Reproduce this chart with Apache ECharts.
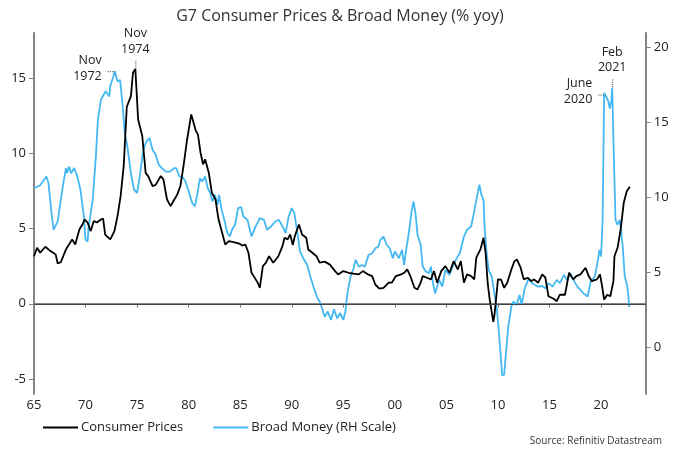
<!DOCTYPE html>
<html>
<head>
<meta charset="utf-8">
<script src="https://cdn.jsdelivr.net/npm/echarts@6/dist/echarts.min.js"></script>
<style>
html,body{margin:0;padding:0;background:#fff;}
#c{width:680px;height:453px;}
</style>
</head>
<body>
<div id="c"></div>
<script>
// ---- Data (year, % yoy) ----
const seriesNames = ['Consumer Prices', 'Broad Money (RH Scale)'];
const leftTicks = [-5, 0, 5, 10, 15];
const rightTicks = [0, 5, 10, 15, 20];

const cpi = [
[1965.0,3.16],[1965.3,3.72],[1965.6,3.39],[1966.1,3.79],[1966.6,3.5],[1967.1,3.28],[1967.3,2.68],[1967.6,2.76],
[1968.1,3.61],[1968.7,4.28],[1969.0,3.94],[1969.4,4.94],[1969.7,5.27],[1969.9,5.6],[1970.2,5.4],[1970.5,4.83],
[1970.8,5.5],[1971.1,5.4],[1971.5,5.6],[1971.7,5.67],[1971.9,4.6],[1972.4,4.28],[1972.8,4.83],[1973.1,5.83],
[1973.4,7.15],[1973.7,9.15],[1974.0,13.1],[1974.4,13.8],[1974.6,15.36],[1974.83,15.6],[1975.1,12.25],[1975.5,11.15],
[1975.83,8.7],[1976.1,8.45],[1976.5,7.82],[1976.8,7.9],[1977.3,8.49],[1977.55,8.27],[1977.9,6.93],[1978.25,6.49],
[1978.5,6.8],[1978.9,7.27],[1979.2,7.83],[1979.5,9.15],[1979.85,10.92],[1980.25,12.59],[1980.4,12.47],[1980.7,11.48],
[1980.9,11.26],[1981.15,10.04],[1981.4,9.27],[1981.6,9.6],[1981.95,8.71],[1982.25,7.38],[1982.6,6.93],[1982.9,5.6],
[1983.2,4.83],[1983.55,3.94],[1983.9,4.16],[1984.35,4.1],[1984.9,4.0],[1985.2,3.87],[1985.5,3.94],[1985.8,3.39],
[1986.1,2.06],[1986.5,1.62],[1986.7,1.4],[1986.9,1.06],[1987.2,2.5],[1987.5,2.73],[1987.8,3.16],[1988.2,2.73],
[1988.7,3.16],[1989.1,3.83],[1989.3,4.39],[1989.6,4.28],[1989.85,4.61],[1990.1,3.9],[1990.3,4.5],[1990.7,5.27],
[1991.0,4.6],[1991.4,4.39],[1991.6,3.61],[1992.0,3.39],[1992.4,3.16],[1992.7,2.73],[1993.2,2.8],[1993.7,2.6],
[1994.2,2.17],[1994.5,1.95],[1995.0,2.17],[1995.5,2.06],[1996.0,2.0],[1996.5,1.95],[1996.9,2.17],[1997.4,1.95],
[1997.8,1.84],[1998.1,1.28],[1998.5,1.0],[1998.9,1.06],[1999.4,1.4],[1999.7,1.4],[2000.1,1.84],[2000.6,1.95],
[2000.9,2.06],[2001.2,2.28],[2001.5,1.84],[2001.9,1.06],[2002.2,0.95],[2002.5,1.4],[2002.7,1.84],[2003.1,1.73],
[2003.5,1.62],[2003.8,2.17],[2004.1,1.4],[2004.5,2.17],[2004.9,2.5],[2005.3,2.06],[2005.7,2.83],[2006.1,2.28],
[2006.4,2.83],[2006.7,1.4],[2007.0,1.95],[2007.4,1.84],[2007.7,1.62],[2007.9,3.06],[2008.3,3.61],[2008.6,4.39],
[2008.8,3.39],[2009.0,1.4],[2009.2,0.28],[2009.55,-1.2],[2009.65,-0.8],[2009.8,0.2],[2010.0,1.62],[2010.3,1.6],
[2010.6,1.06],[2010.9,1.4],[2011.3,2.28],[2011.6,2.83],[2011.85,2.94],[2012.2,2.4],[2012.5,1.62],[2012.9,1.73],
[2013.2,1.5],[2013.5,1.62],[2013.9,1.4],[2014.3,1.95],[2014.6,1.73],[2014.9,0.5],[2015.4,0.33],[2015.7,0.17],
[2016.0,0.6],[2016.5,0.6],[2016.9,2.06],[2017.3,1.62],[2017.6,1.84],[2018.0,1.95],[2018.5,2.39],[2018.8,1.84],
[2019.1,1.5],[2019.6,1.62],[2019.9,1.95],[2020.1,1.17],[2020.3,0.28],[2020.6,0.6],[2020.9,0.5],[2021.2,1.5],
[2021.3,3.16],[2021.6,3.72],[2021.9,4.94],[2022.2,6.71],[2022.5,7.49],[2022.65,7.49],[2022.8,7.78]
];

const broadMoney = [
[1965.0,10.61],[1965.3,10.7],[1965.6,10.8],[1966.2,11.38],[1966.4,10.95],[1966.7,8.95],[1966.9,7.84],[1967.3,8.4],
[1967.6,9.83],[1967.85,10.95],[1968.1,11.94],[1968.2,11.6],[1968.4,12.05],[1968.6,11.6],[1968.9,11.94],[1969.2,11.38],
[1969.5,10.5],[1969.8,8.95],[1970.0,7.17],[1970.2,7.06],[1970.3,8.06],[1970.7,9.83],[1971.0,12.72],[1971.2,15.16],
[1971.5,16.5],[1971.95,17.05],[1972.3,16.7],[1972.4,17.4],[1972.7,18.04],[1972.83,18.38],[1973.1,17.7],[1973.35,17.8],
[1973.6,16.05],[1973.8,14.27],[1974.05,13.4],[1974.4,11.61],[1974.7,10.5],[1975.0,10.3],[1975.3,11.6],[1975.6,13.16],
[1975.9,13.7],[1976.2,13.94],[1976.5,13.16],[1976.8,12.83],[1977.1,12.16],[1977.4,11.94],[1977.8,11.7],[1978.2,11.7],
[1978.6,11.94],[1978.8,11.94],[1979.1,11.38],[1979.4,11.35],[1979.7,11.05],[1980.0,10.4],[1980.35,9.61],[1980.6,9.4],
[1980.8,10.05],[1981.1,11.27],[1981.3,11.05],[1981.6,11.38],[1981.85,10.6],[1982.1,10.27],[1982.3,9.72],[1982.55,10.16],
[1982.8,9.5],[1982.95,10.16],[1983.2,9.16],[1983.5,8.39],[1983.75,7.62],[1984.0,7.4],[1984.2,7.84],[1984.5,8.17],
[1984.8,9.28],[1985.1,9.35],[1985.3,8.72],[1985.7,8.5],[1986.1,7.39],[1986.5,8.06],[1986.9,8.61],[1987.3,8.5],
[1987.6,7.84],[1988.0,8.06],[1988.4,8.39],[1988.75,8.5],[1989.1,8.06],[1989.4,7.62],[1989.7,8.72],[1990.0,9.28],
[1990.25,8.95],[1990.5,7.84],[1990.8,6.39],[1991.2,5.84],[1991.5,5.5],[1991.8,4.73],[1992.1,4.06],[1992.5,3.29],
[1992.7,3.07],[1993.0,2.5],[1993.2,2.06],[1993.5,2.4],[1993.8,1.84],[1994.1,2.55],[1994.4,1.95],[1994.7,2.3],
[1995.0,1.84],[1995.2,2.4],[1995.4,3.62],[1995.7,4.73],[1996.0,5.28],[1996.2,5.84],[1996.5,5.39],[1996.8,5.5],
[1997.1,5.39],[1997.45,6.17],[1997.8,6.28],[1998.1,6.61],[1998.4,6.72],[1998.6,7.17],[1998.9,7.39],[1999.2,6.84],
[1999.5,6.61],[1999.8,5.95],[2000.0,6.39],[2000.4,5.95],[2000.7,6.5],[2000.9,5.5],[2001.1,6.5],[2001.4,7.84],
[2001.6,8.95],[2001.8,9.72],[2002.0,8.95],[2002.2,7.5],[2002.5,6.84],[2002.7,5.39],[2003.0,5.06],[2003.3,4.95],
[2003.5,5.39],[2003.7,4.28],[2003.9,3.6],[2004.1,4.06],[2004.3,4.5],[2004.6,4.06],[2004.9,5.17],[2005.3,4.84],
[2005.6,5.39],[2006.0,5.95],[2006.3,6.28],[2006.7,7.39],[2007.0,7.84],[2007.4,8.06],[2007.7,9.06],[2007.9,9.83],
[2008.2,10.83],[2008.4,10.16],[2008.6,9.83],[2008.7,8.06],[2008.9,6.28],[2009.1,5.17],[2009.4,4.73],[2009.6,3.84],
[2009.9,2.51],[2010.1,0.96],[2010.3,-0.82],[2010.4,-1.82],[2010.6,-1.8],[2010.8,-0.15],[2011.0,1.4],[2011.3,2.73],
[2011.5,3.07],[2011.8,2.84],[2012.1,3.51],[2012.3,2.84],[2012.6,3.95],[2013.0,4.62],[2013.3,4.28],[2013.6,4.17],
[2013.9,4.06],[2014.3,4.1],[2014.6,3.95],[2014.9,4.29],[2015.3,4.06],[2015.7,4.5],[2016.0,4.29],[2016.4,4.84],
[2016.7,4.5],[2017.0,4.95],[2017.4,4.39],[2017.7,4.06],[2018.0,3.84],[2018.3,3.6],[2018.7,3.4],[2019.0,4.4],
[2019.4,4.73],[2019.7,5.84],[2019.85,6.5],[2020.0,6.06],[2020.15,8.5],[2020.3,16.94],[2020.42,16.83],[2020.7,16.4],
[2020.85,15.9],[2021.0,16.4],[2021.08,17.3],[2021.25,12.5],[2021.4,8.5],[2021.6,8.17],[2021.8,8.5],[2021.9,8.06],
[2022.1,6.73],[2022.3,4.73],[2022.55,4.06],[2022.75,2.7]
];

// annotations: text, data point (year, value), which y axis, style of pointer
const annotations = [
  {text: 'Nov\n1972', x: 1972.83, y: 18.38, yAxis: 1, kind: 'left'},
  {text: 'Nov\n1974', x: 1974.83, y: 15.6, yAxis: 0, kind: 'top'},
  {text: 'June\n2020', x: 2020.42, y: 16.83, yAxis: 1, kind: 'left'},
  {text: 'Feb\n2021', x: 2021.08, y: 17.3, yAxis: 1, kind: 'top'}
];

const FONT = '"Open Sans", "Noto Sans", sans-serif';
const chart = echarts.init(document.getElementById('c'), null, {renderer: 'canvas'});

const axisGray = '#858585';
const option = {
  animation: false,
  backgroundColor: '#fff',
  textStyle: {fontFamily: FONT},
  title: {
    text: 'G7 Consumer Prices & Broad Money (% yoy)',
    left: 'center', top: 3,
    textStyle: {fontFamily: FONT, fontSize: 16, fontWeight: 'normal', color: '#333'}
  },
  legend: {
    left: 38, top: 416,
    icon: 'rect',
    itemWidth: 35, itemHeight: 2, itemGap: 30,
    textStyle: {fontFamily: FONT, fontSize: 13, color: '#222', padding: [0, 0, 0, -2]},
    data: seriesNames
  },
  grid: {left: 34, right: 34.3, top: 33, bottom: 59, containLabel: false},
  xAxis: {
    type: 'value', min: 1965, max: 2024.33, interval: 5,
    splitLine: {show: false},
    axisLine: {lineStyle: {color: axisGray, width: 2}},
    axisTick: {show: true, length: 4, lineStyle: {color: axisGray}},
    axisLabel: {
      fontFamily: FONT, fontSize: 13, color: '#222', margin: 5, showMaxLabel: false,
      formatter: v => String(Math.round(v) % 100).padStart(2, '0')
    }
  },
  yAxis: [
    {
      type: 'value', min: -6, max: 18, position: 'left',
      splitLine: {show: false},
      axisLine: {show: true, lineStyle: {color: axisGray, width: 2}},
      axisTick: {show: true, length: 5, customValues: leftTicks, lineStyle: {color: axisGray}},
      axisLabel: {customValues: leftTicks, fontFamily: FONT, fontSize: 13, color: '#222', margin: 8}
    },
    {
      type: 'value', min: -3.08, max: 20.92, position: 'right',
      splitLine: {show: false},
      axisLine: {show: true, lineStyle: {color: axisGray, width: 2}},
      axisTick: {show: true, length: 5, customValues: rightTicks, lineStyle: {color: axisGray}},
      axisLabel: {customValues: rightTicks, fontFamily: FONT, fontSize: 13, color: '#222', margin: 8}
    }
  ],
  series: [
    {
      name: seriesNames[1], type: 'line', yAxisIndex: 1, data: broadMoney,
      symbol: 'none', lineStyle: {color: '#45b8f2', width: 1.8}, itemStyle: {color: '#45b8f2'}, z: 2
    },
    {
      name: seriesNames[0], type: 'line', yAxisIndex: 0, data: cpi,
      symbol: 'none', lineStyle: {color: '#000', width: 1.8}, itemStyle: {color: '#000'}, z: 3,
      markLine: {
        silent: true, symbol: 'none', label: {show: false},
        lineStyle: {color: '#444', width: 1.2, type: 'solid'},
        data: [{yAxis: 0}]
      }
    }
  ]
};
chart.setOption(option);

// annotations positioned from data values via the axes
const g = [];
annotations.forEach(a => {
  const p = chart.convertToPixel({xAxisIndex: 0, yAxisIndex: a.yAxis}, [a.x, a.y]);
  const dot = {stroke: '#333', lineWidth: 1, lineDash: [1, 1.2]};
  if (a.kind === 'left') {
    g.push({type: 'line', shape: {x1: p[0] - 7, y1: p[1] + 0.5, x2: p[0], y2: p[1] + 0.5}, style: dot, z: 10});
    g.push({type: 'text', x: p[0] - 13, y: p[1] - 3,
      style: {text: a.text, font: '12.5px ' + FONT, fill: '#222', align: 'right', verticalAlign: 'middle', lineHeight: 15.5}, z: 10});
  } else {
    g.push({type: 'line', shape: {x1: p[0] + 0.5, y1: p[1] - 8, x2: p[0] + 0.5, y2: p[1]}, style: dot, z: 10});
    g.push({type: 'text', x: p[0], y: p[1] - 27.5,
      style: {text: a.text, font: '12.5px ' + FONT, fill: '#222', align: 'center', verticalAlign: 'middle', lineHeight: 15.5}, z: 10});
  }
});
g.push({type: 'text', right: 18, top: 436,
  style: {text: 'Source: Refinitiv Datastream', font: '10px ' + FONT, fill: '#333'}});
chart.setOption({graphic: g});
</script>
</body>
</html>
